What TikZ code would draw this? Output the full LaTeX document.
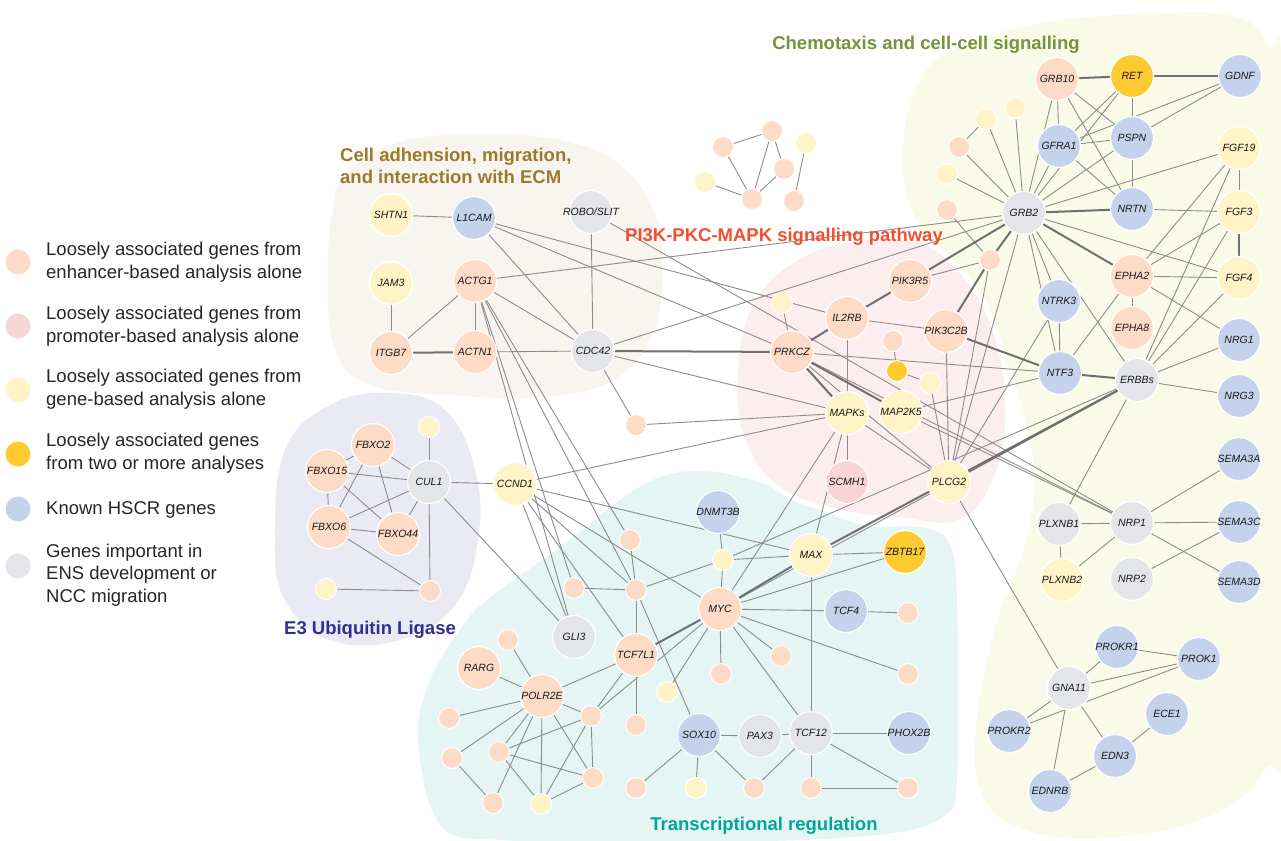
\documentclass[tikz,border=0pt]{standalone}
\usepackage{fontspec}
\setmainfont{Liberation Sans}
\pgfdeclarelayer{bg}
\pgfdeclarelayer{edges}
\pgfsetlayers{bg,edges,main}
\definecolor{cOr}{HTML}{FDDBC7}
\definecolor{cPk}{HTML}{F8D6D6}
\definecolor{cYe}{HTML}{FFF3C8}
\definecolor{cGo}{HTML}{FECA30}
\definecolor{cBl}{HTML}{C4D2EC}
\definecolor{cGr}{HTML}{E4E5E8}
\definecolor{edgec}{HTML}{8C8C8C}
\definecolor{edgeT}{HTML}{707070}
\definecolor{bBeige}{HTML}{F8F5F0}
\definecolor{bLav}{HTML}{EAEAF5}
\definecolor{bPink}{HTML}{FCEEEE}
\definecolor{bYel}{HTML}{FAFAE8}
\definecolor{bTeal}{HTML}{E4F5F4}
\definecolor{tGreen}{HTML}{76923C}
\definecolor{tBrown}{HTML}{9C7A2C}
\definecolor{tRed}{HTML}{F05032}
\definecolor{tBlue}{HTML}{2E3192}
\definecolor{tTeal}{HTML}{00A69C}
\definecolor{legtext}{HTML}{262626}
\newcommand\gnode[4]{\node[gn,#2,label={[lbl]center:#3}] (#1) at #4 {};}
\newcommand\snode[3]{\node[sn,#2] (#1) at #3 {};}
\begin{document}
\begin{tikzpicture}[x=1pt,y=-1pt,
  gn/.style={circle,draw=white,line width=1.2pt,inner sep=0pt,minimum size=43pt},
  sn/.style={circle,draw=white,line width=1pt,inner sep=0pt,minimum size=21pt},
  cor/.style={fill=cOr}, cpk/.style={fill=cPk}, cye/.style={fill=cYe},
  cgo/.style={fill=cGo}, cbl/.style={fill=cBl}, cgr/.style={fill=cGr},
  lbl/.style={font=\fontsize{10.5}{12}\selectfont\itshape,text=black!90,inner sep=0pt},
  ed/.style={draw=edgec,line width=0.9pt},
  edt/.style={draw=edgeT,line width=2pt},
  ttl/.style={font=\fontsize{18.5}{22}\selectfont\bfseries,inner sep=0pt},
  legc/.style={circle,inner sep=0pt,minimum size=25pt},
  legt/.style={font=\fontsize{18.5}{22.5}\selectfont,text=legtext,align=left,anchor=west,inner sep=0pt}
]
\useasboundingbox (0,0) rectangle (1281,840);
\begin{pgfonlayer}{bg}
\fill[white] (0,0) rectangle (1281,840);
\fill[bYel] plot[smooth cycle,tension=0.7] coordinates {(903,150) (920,80) (965,45) (1050,22) (1150,14) (1232,16) (1268,45) (1283,110) (1285,700) (1265,770) (1205,818) (1100,838) (1020,828) (983,795) (976,730) (995,630) (1025,545) (1034,480) (1025,420) (1005,360) (975,300) (940,255) (912,210)};
\fill[bBeige] plot[smooth cycle,tension=0.7] coordinates {(345,175) (400,142) (480,135) (560,140) (620,165) (655,215) (662,280) (650,340) (610,382) (540,397) (450,395) (370,385) (335,350) (328,280) (332,215)};
\fill[bLav] plot[smooth cycle,tension=0.7] coordinates {(275,540) (285,450) (330,405) (390,393) (445,410) (475,470) (478,540) (455,605) (400,640) (330,640) (285,600)};
\fill[bTeal] plot[smooth cycle,tension=0.6] coordinates {(418,740) (430,680) (460,630) (487,600) (560,547) (620,500) (660,477) (700,471) (745,478) (795,495) (830,514) (870,526) (925,528) (950,545) (957,600) (957,780) (945,815) (900,832) (800,840) (650,842) (500,840) (440,825)};
\filldraw[bPink,draw=white,line width=5pt] plot[smooth cycle,tension=0.7] coordinates {(735,385) (748,310) (790,262) (850,240) (915,240) (960,270) (995,330) (1008,410) (995,480) (960,522) (900,520) (840,512) (780,490) (745,445)};
\end{pgfonlayer}

% titles
\node[ttl,text=tGreen] at (926,45) {Chemotaxis and cell-cell signalling};
\node[ttl,text=tBrown,align=left,anchor=west] at (340,166) {Cell adhension, migration,\\and interaction with ECM};
\node[ttl,text=tRed] (pititle) at (784,237) {PI3K-PKC-MAPK signalling pathway};
\node[ttl,text=tBlue] at (370,630) {E3 Ubiquitin Ligase};
\node[ttl,text=tTeal] at (764,826) {Transcriptional regulation};

% legend
\node[legc,fill=cOr] (lg1) at (18,262) {};
\node[legt] at (46,262) {Loosely associated genes from\\enhancer-based analysis alone};
\node[legc,fill=cPk] (lg2) at (18,326) {};
\node[legt] at (46,326) {Loosely associated genes from\\promoter-based analysis alone};
\node[legc,fill=cYe] (lg3) at (18,390) {};
\node[legt] at (46,389) {Loosely associated genes from\\gene-based analysis alone};
\node[legc,fill=cGo] (lg4) at (18,454) {};
\node[legt] at (46,453) {Loosely associated genes\\from two or more analyses};
\node[legc,fill=cBl] (lg5) at (18,509) {};
\node[legt] at (46,510) {Known HSCR genes};
\node[legc,fill=cGr] (lg6) at (18,566) {};
\node[legt] at (46,575) {Genes important in\\ENS development or\\NCC migration};

% cell adhesion
\gnode{shtn1}{cye}{SHTN1}{(391,215)}
\gnode{l1cam}{cbl}{L1CAM}{(474,218)}
\gnode{robo}{cgr}{ROBO/SLIT}{(591,212)}
\gnode{jam3}{cye}{JAM3}{(391,283)}
\gnode{actg1}{cor}{ACTG1}{(475,281)}
\gnode{itgb7}{cor}{ITGB7}{(391,353)}
\gnode{actn1}{cor}{ACTN1}{(475,352)}
\gnode{cdc42}{cgr}{CDC42}{(593,351)}
% top cluster
\snode{t1}{cor}{(723,147)}
\snode{t2}{cor}{(772,131)}
\snode{t3}{cor}{(784,169)}
\snode{t4}{cye}{(806,143)}
\snode{t5}{cye}{(705,182)}
\snode{t6}{cor}{(752,199)}
\snode{t7}{cor}{(794,201)}
% PI3K
\gnode{pik3r5}{cor}{PIK3R5}{(910,281)}
\gnode{il2rb}{cor}{IL2RB}{(847,318)}
\gnode{pik3c2b}{cor}{PIK3C2B}{(946,331)}
\gnode{prkcz}{cor}{PRKCZ}{(792,352)}
\snode{p1}{cye}{(782,303)}
\snode{p2}{cor}{(893,341)}
\snode{p3}{cgo}{(897,371)}
\snode{p4}{cye}{(930,383)}
\gnode{mapks}{cye}{MAPKs}{(847,413)}
\gnode{map2k5}{cye}{MAP2K5}{(901,412)}
\gnode{scmh1}{cpk}{SCMH1}{(847,482)}
\gnode{plcg2}{cye}{PLCG2}{(949,482)}
\snode{p5}{cor}{(636,425)}
% chemotaxis
\gnode{grb10}{cor}{GRB10}{(1057,79)}
\gnode{ret}{cgo}{RET}{(1132,76)}
\gnode{gdnf}{cbl}{GDNF}{(1240,76)}
\gnode{gfra1}{cbl}{GFRA1}{(1059,146)}
\gnode{pspn}{cbl}{PSPN}{(1132,138)}
\gnode{fgf19}{cye}{FGF19}{(1239,148)}
\gnode{grb2}{cgr}{GRB2}{(1024,213)}
\gnode{nrtn}{cbl}{NRTN}{(1132,209)}
\gnode{fgf3}{cye}{FGF3}{(1239,212)}
\gnode{epha2}{cor}{EPHA2}{(1132,276)}
\gnode{fgf4}{cye}{FGF4}{(1239,278)}
\gnode{ntrk3}{cbl}{NTRK3}{(1059,301)}
\gnode{epha8}{cor}{EPHA8}{(1132,328)}
\gnode{nrg1}{cbl}{NRG1}{(1239,340)}
\gnode{ntf3}{cbl}{NTF3}{(1060,373)}
\gnode{erbbs}{cgr}{ERBBs}{(1137,380)}
\gnode{nrg3}{cbl}{NRG3}{(1239,396)}
\snode{c1}{cye}{(1015,108)}
\snode{c2}{cye}{(986,119)}
\snode{c3}{cor}{(959,147)}
\snode{c4}{cye}{(947,174)}
\snode{c5}{cor}{(947,210)}
\snode{c6}{cor}{(990,260)}
% right bottom
\gnode{sema3a}{cbl}{SEMA3A}{(1239,459)}
\gnode{plxnb1}{cgr}{PLXNB1}{(1059,524)}
\gnode{nrp1}{cgr}{NRP1}{(1132,523)}
\gnode{sema3c}{cbl}{SEMA3C}{(1239,522)}
\gnode{plxnb2}{cye}{PLXNB2}{(1062,580)}
\gnode{nrp2}{cgr}{NRP2}{(1132,579)}
\gnode{sema3d}{cbl}{SEMA3D}{(1239,582)}
\gnode{prokr1}{cbl}{PROKR1}{(1117,647)}
\gnode{prok1}{cbl}{PROK1}{(1199,659)}
\gnode{gna11}{cgr}{GNA11}{(1069,688)}
\gnode{ece1}{cbl}{ECE1}{(1167,714)}
\gnode{prokr2}{cbl}{PROKR2}{(1009,731)}
\gnode{edn3}{cbl}{EDN3}{(1115,756)}
\gnode{ednrb}{cbl}{EDNRB}{(1050,791)}
% E3
\snode{e1}{cye}{(429,427)}
\gnode{fbxo2}{cor}{FBXO2}{(373,445)}
\gnode{fbxo15}{cor}{FBXO15}{(327,471)}
\gnode{cul1}{cgr}{CUL1}{(429,482)}
\gnode{fbxo6}{cor}{FBXO6}{(329,527)}
\gnode{fbxo44}{cor}{FBXO44}{(398,534)}
\snode{e2}{cye}{(326,589)}
\snode{e3}{cor}{(430,591)}
% transcription
\gnode{ccnd1}{cye}{CCND1}{(515,484)}
\gnode{dnmt3b}{cbl}{DNMT3B}{(718,512)}
\gnode{max}{cye}{MAX}{(811,555)}
\gnode{zbtb17}{cgo}{ZBTB17}{(905,552)}
\snode{s1}{cor}{(630,540)}
\snode{s2}{cye}{(723,560)}
\snode{s3}{cor}{(574,588)}
\snode{s4}{cor}{(636,590)}
\gnode{myc}{cor}{MYC}{(720,609)}
\gnode{tcf4}{cbl}{TCF4}{(846,611)}
\snode{s5}{cor}{(908,613)}
\gnode{gli3}{cgr}{GLI3}{(574,637)}
\snode{s6}{cor}{(508,640)}
\gnode{tcf7l1}{cor}{TCF7L1}{(636,655)}
\gnode{rarg}{cor}{RARG}{(479,668)}
\snode{s7}{cor}{(781,656)}
\snode{s8}{cor}{(721,674)}
\snode{s9}{cye}{(667,692)}
\snode{s10}{cor}{(908,674)}
\gnode{polr2e}{cor}{POLR2E}{(542,696)}
\snode{s11}{cor}{(449,718)}
\snode{s12}{cor}{(591,716)}
\snode{s13}{cor}{(636,725)}
\gnode{sox10}{cbl}{SOX10}{(699,735)}
\gnode{pax3}{cgr}{PAX3}{(760,736)}
\gnode{tcf12}{cgr}{TCF12}{(811,733)}
\gnode{phox2b}{cbl}{PHOX2B}{(909,733)}
\snode{s14}{cor}{(452,758)}
\snode{s15}{cor}{(499,752)}
\snode{s16}{cor}{(593,778)}
\snode{s17}{cor}{(636,788)}
\snode{s18}{cye}{(696,788)}
\snode{s19}{cor}{(754,788)}
\snode{s20}{cor}{(811,788)}
\snode{s21}{cor}{(908,788)}
\snode{s22}{cor}{(493,803)}
\snode{s23}{cye}{(541,804)}

\begin{pgfonlayer}{edges}
\foreach \a/\b in {shtn1/l1cam, jam3/itgb7, itgb7/actg1, actg1/actn1, actg1/cdc42, actn1/cdc42, robo/cdc42, l1cam/cdc42, cdc42/grb2, cdc42/mapks, cdc42/p5, l1cam/il2rb, l1cam/prkcz, actg1/grb2, robo/nrp1, actg1/s3, actg1/s4, actg1/s1, actg1/gli3,
 t1/t2, t1/t6, t2/t6, t2/t3, t3/t6, t5/t6, t4/t7,
 il2rb/pik3c2b, il2rb/mapks, pik3r5/c6, pik3c2b/plcg2, p1/prkcz, p2/p3, p3/p4, p4/plcg2, prkcz/plcg2, prkcz/ntf3, prkcz/nrp1, mapks/scmh1, mapks/max, mapks/myc, mapks/plcg2, map2k5/ntf3, map2k5/nrp1, p5/mapks, ccnd1/mapks, c6/plcg2, grb2/plcg2, ntrk3/plcg2, plcg2/gna11, s2/erbbs, myc/erbbs,
 grb10/gfra1, grb10/pspn, grb10/nrtn, grb10/grb2, ret/pspn, ret/gfra1, ret/grb2, gdnf/pspn, gdnf/gfra1, gfra1/pspn, gfra1/nrtn, gfra1/grb2, pspn/nrtn, pspn/grb2, nrtn/fgf3, fgf19/fgf3, grb2/fgf19, grb2/fgf4, grb2/ntrk3, grb2/ntf3, grb2/erbbs, grb2/c1, grb2/c2, grb2/c3, grb2/c4, c2/c3, c5/c6, epha2/fgf4, epha2/fgf3, epha2/fgf19, epha2/epha8, epha2/nrg1, epha2/ntf3, ntrk3/ntf3, erbbs/nrg1, erbbs/nrg3, erbbs/fgf19, erbbs/fgf3, erbbs/fgf4, erbbs/plxnb1,
 plxnb1/nrp1, plxnb1/plxnb2, plxnb2/nrp1, nrp1/sema3a, nrp1/sema3c, nrp1/sema3d, nrp2/sema3c, gna11/prokr1, gna11/prok1, gna11/prokr2, gna11/edn3, gna11/ednrb, prokr1/prok1, prok1/prokr2, edn3/ece1, edn3/ednrb,
 e1/cul1, fbxo2/cul1, fbxo2/fbxo15, fbxo2/fbxo6, fbxo2/fbxo44, fbxo15/cul1, fbxo15/fbxo6, fbxo15/fbxo44, fbxo6/cul1, fbxo6/fbxo44, fbxo6/e3, fbxo44/cul1, cul1/e3, e2/e3, cul1/ccnd1, cul1/gli3,
 ccnd1/max, ccnd1/myc, ccnd1/s4, ccnd1/tcf7l1, ccnd1/gli3,
 dnmt3b/s2, s2/myc, s2/max, s2/s4, max/zbtb17, max/tcf12, zbtb17/myc, myc/tcf4, tcf4/s5, myc/s10, myc/s7, myc/s8, myc/s9, myc/tcf12, myc/s12, s1/s4, s3/s4, s4/tcf7l1, s4/sox10, sox10/s19, tcf7l1/s13, tcf7l1/polr2e, tcf7l1/s12, polr2e/rarg, polr2e/s6, polr2e/s11, polr2e/s14, polr2e/s15, polr2e/s22, polr2e/s23, polr2e/s16, polr2e/s12, s15/s12, s15/s16, s15/s23, s14/s22, s12/s16, s12/s23, s16/s23, tcf12/pax3, pax3/sox10, tcf12/phox2b, tcf12/s20, tcf12/s19, tcf12/s21, s20/s21, sox10/s17, sox10/s18}
  \draw[ed] (\a) -- (\b);
\foreach \a/\b in {itgb7/actn1, cdc42/prkcz, prkcz/il2rb, il2rb/pik3r5, pik3r5/grb2, pik3c2b/c6, pik3c2b/ntf3, prkcz/map2k5, plcg2/erbbs, max/erbbs, grb10/ret, ret/gdnf, nrtn/grb2, fgf3/fgf4, grb2/epha2, grb2/c6, ntf3/erbbs, max/myc, myc/tcf7l1, prkcz/mapks}
  \draw[edt] (\a) -- (\b);
\end{pgfonlayer}
\end{tikzpicture}
\end{document}
